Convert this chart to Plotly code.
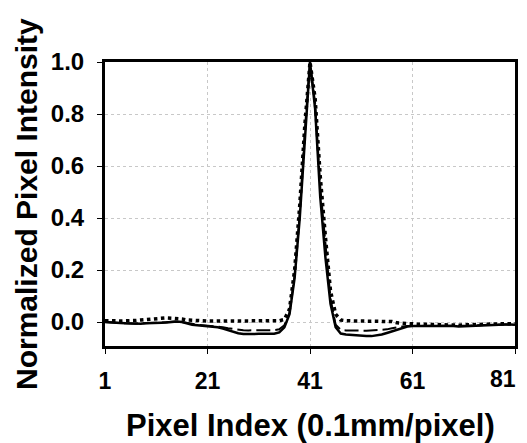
import plotly.graph_objects as go

pixel_index = list(range(1, 82))

solid_profile = [
    0.000, -0.002, -0.003, -0.004, -0.005, -0.006, -0.007, -0.006, -0.005, -0.005,
    -0.004, -0.003, -0.002, 0.000, 0.002, 0.000, -0.005, -0.010, -0.012, -0.014,
    -0.015, -0.017, -0.020, -0.025, -0.032, -0.038, -0.043, -0.046, -0.047, -0.046,
    -0.045, -0.045, -0.045, -0.045, -0.040, -0.020, 0.030, 0.170, 0.400, 0.720,
    1.000, 0.820, 0.480, 0.250, 0.070, -0.020, -0.044, -0.048, -0.050, -0.052,
    -0.053, -0.054, -0.054, -0.052, -0.048, -0.042, -0.036, -0.028, -0.022, -0.017,
    -0.015, -0.015, -0.014, -0.014, -0.015, -0.016, -0.015, -0.014, -0.015, -0.017,
    -0.016, -0.014, -0.013, -0.012, -0.012, -0.011, -0.010, -0.010, -0.009, -0.009,
    -0.010,
]

dashed_profile = [
    0.000, -0.002, -0.003, -0.004, -0.005, -0.006, -0.006, -0.005, -0.005, -0.004,
    -0.003, -0.002, -0.001, 0.000, 0.002, 0.000, -0.004, -0.008, -0.010, -0.012,
    -0.014, -0.015, -0.017, -0.020, -0.024, -0.027, -0.030, -0.031, -0.032, -0.032,
    -0.032, -0.032, -0.031, -0.031, -0.028, -0.012, 0.035, 0.180, 0.420, 0.740,
    1.000, 0.840, 0.520, 0.300, 0.090, -0.010, -0.030, -0.032, -0.033, -0.033,
    -0.033, -0.033, -0.032, -0.031, -0.030, -0.028, -0.024, -0.020, -0.017, -0.015,
    -0.015, -0.015, -0.014, -0.014, -0.015, -0.016, -0.015, -0.014, -0.015, -0.016,
    -0.015, -0.014, -0.013, -0.012, -0.012, -0.011, -0.010, -0.010, -0.009, -0.009,
    -0.010,
]

dotted_profile = [
    0.005, 0.006, 0.005, 0.004, 0.004, 0.005, 0.006, 0.008, 0.010, 0.012,
    0.014, 0.015, 0.016, 0.015, 0.014, 0.012, 0.008, 0.006, 0.005, 0.005,
    0.004, 0.004, 0.004, 0.005, 0.005, 0.005, 0.004, 0.004, 0.004, 0.005,
    0.005, 0.005, 0.005, 0.005, 0.005, 0.010, 0.050, 0.200, 0.450, 0.760,
    1.000, 0.860, 0.560, 0.330, 0.120, 0.030, 0.008, 0.005, 0.005, 0.005,
    0.005, 0.005, 0.005, 0.005, 0.004, 0.003, 0.002, -0.003, -0.005, -0.006,
    -0.007, -0.008, -0.008, -0.009, -0.010, -0.011, -0.010, -0.010, -0.011, -0.012,
    -0.011, -0.010, -0.010, -0.009, -0.008, -0.008, -0.007, -0.007, -0.006, -0.006,
    -0.006,
]

x_ticks = [1, 21, 41, 61, 81]
x_tick_text = ["1", "21", "41", "61", "81"]
y_ticks = [0.0, 0.2, 0.4, 0.6, 0.8, 1.0]
y_tick_text = ["0.0", "0.2", "0.4", "0.6", "0.8", "1.0"]
x_title = "Pixel Index (0.1mm/pixel)"
y_title = "Normalized Pixel Intensity"

fig = go.Figure()
fig.add_trace(go.Scatter(x=pixel_index, y=solid_profile, mode="lines",
                         line=dict(color="black", width=2.5), showlegend=False))
fig.add_trace(go.Scatter(x=pixel_index, y=dashed_profile, mode="lines",
                         line=dict(color="black", width=2, dash="14px,5px"), showlegend=False))
fig.add_trace(go.Scatter(x=pixel_index, y=dotted_profile, mode="lines",
                         line=dict(color="black", width=3.5, dash="dot"), showlegend=False))

font_family = "Liberation Sans, Arial, sans-serif"

fig.update_layout(
    width=519, height=435,
    margin=dict(l=97, r=12, t=54, b=97),
    paper_bgcolor="white", plot_bgcolor="white",
    font=dict(family=font_family, color="black"),
)
# the last tick label sits at the window edge; it is drawn as a right-aligned
# annotation on its tick so it stays fully visible
fig.update_xaxes(
    range=[1, 81], tickvals=x_ticks, ticktext=x_tick_text[:-1] + [""],
    showline=True, linecolor="black", linewidth=3, mirror=True,
    ticks="outside", ticklen=5, tickwidth=1, tickcolor="black",
    showgrid=True, gridcolor="#c8c8c8", griddash="dot", gridwidth=1,
    zeroline=False, ticklabelstandoff=7, automargin=False,
    ticklabeloverflow="allow",
    tickfont=dict(size=23, family=font_family, weight="bold"),
)
fig.add_annotation(text=x_tick_text[-1], xref="x", yref="paper", x=x_ticks[-1], y=0,
                   xanchor="right", yanchor="middle", xshift=3, yshift=-33,
                   showarrow=False,
                   font=dict(size=23, family=font_family, weight="bold"))
fig.update_yaxes(
    range=[-0.092, 1.0], tickvals=y_ticks, ticktext=y_tick_text,
    showline=True, linecolor="black", linewidth=3, mirror=True,
    ticks="outside", ticklen=5, tickwidth=1, tickcolor="black",
    showgrid=True, gridcolor="#c8c8c8", griddash="dot", gridwidth=1,
    zeroline=False, ticklabelstandoff=8, automargin=False,
    ticklabeloverflow="allow",
    tickfont=dict(size=24, family=font_family, weight="bold"),
)
fig.add_annotation(text=x_title, xref="paper", yref="paper", x=0.5, y=0,
                   yshift=-79, xanchor="center", yanchor="middle", showarrow=False,
                   font=dict(size=31, family=font_family, weight="bold"))
fig.add_annotation(text=y_title, xref="paper", yref="paper", x=0, y=0.5,
                   xshift=-79, xanchor="center", yanchor="middle", showarrow=False,
                   textangle=-90,
                   font=dict(size=30, family=font_family, weight="bold"))

fig.write_html("out.html")
